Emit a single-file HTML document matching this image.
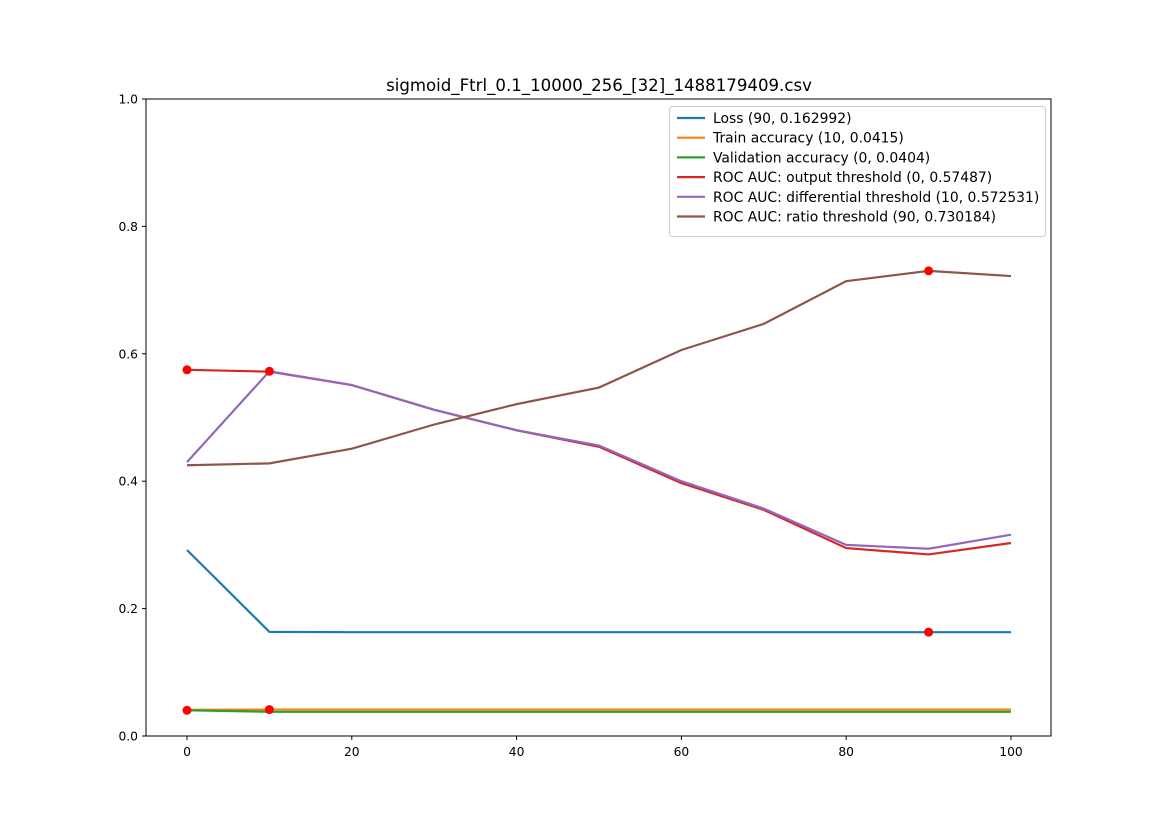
<!DOCTYPE html>
<html><head><meta charset="utf-8">
<style>
body{margin:0;background:#fff;}
svg{display:block;font-family:"DejaVu Sans","Liberation Sans",sans-serif;}
</style></head>
<body>
<svg id="chart" width="1169" height="827" viewBox="0 0 1169 827">
<rect width="1169" height="827" fill="#fff"/>
<text x="599" y="91" text-anchor="middle" font-size="16.6">sigmoid_Ftrl_0.1_10000_256_[32]_1488179409.csv</text>
<g id="marks"></g>
<g id="axes"></g>
<g id="legend"></g>
</svg>
<script>
const xs = [0,10,20,30,40,50,60,70,80,90,100];
const lossVals = [0.292,0.1635,0.163,0.163,0.163,0.163,0.163,0.163,0.163,0.162992,0.163];
const trainVals = [0.041,0.0415,0.0415,0.0415,0.0415,0.0415,0.0415,0.0415,0.0415,0.0415,0.0415];
const valVals = [0.0404,0.038,0.038,0.038,0.038,0.038,0.038,0.038,0.038,0.038,0.038];
const outVals = [0.57487,0.572,0.551,0.512,0.480,0.454,0.397,0.355,0.295,0.285,0.303];
const diffVals = [0.43,0.572531,0.551,0.512,0.480,0.456,0.400,0.357,0.300,0.294,0.316];
const ratioVals = [0.425,0.428,0.451,0.489,0.521,0.547,0.606,0.647,0.714,0.730184,0.722];
const seriesNames = ["Loss (90, 0.162992)","Train accuracy (10, 0.0415)","Validation accuracy (0, 0.0404)","ROC AUC: output threshold (0, 0.57487)","ROC AUC: differential threshold (10, 0.572531)","ROC AUC: ratio threshold (90, 0.730184)"];
const xTicks = [0,20,40,60,80,100];
const yTicks = [0,0.2,0.4,0.6,0.8,1.0];

const NS="http://www.w3.org/2000/svg";
const L=146,R=1051,T=99,B=736;
const sx=v=>187+(v)*8.24;
const sy=v=>B-(v)*(B-T);
function mk(tag,attrs,parent){const e=document.createElementNS(NS,tag);for(const k in attrs)e.setAttribute(k,attrs[k]);parent.appendChild(e);return e;}
const marks=document.getElementById('marks'),axes=document.getElementById('axes'),legend=document.getElementById('legend');
const colors=["#1f77b4","#ff7f0e","#2ca02c","#d62728","#9467bd","#8c564b"];
const all=[lossVals,trainVals,valVals,outVals,diffVals,ratioVals];
const keys=["loss","train-accuracy","validation-accuracy","roc-output","roc-differential","roc-ratio"];
all.forEach((vals,i)=>{
  const p=mk('polyline',{points:vals.map((v,j)=>sx(xs[j])+','+sy(v)).join(' '),fill:'none',stroke:colors[i],'stroke-width':2.2},marks);
  
  
});
all.forEach((vals,i)=>{
  let bi=0;vals.forEach((v,j)=>{if(i===0?v<vals[bi]:v>vals[bi])bi=j;});
  const c=mk('circle',{cx:sx(xs[bi]),cy:sy(vals[bi]),r:4.5,fill:'#ff0000'},marks);
  
  
});
const fr=mk('rect',{x:L,y:T,width:R-L,height:B-T,fill:'none',stroke:'#000','stroke-width':1},axes);


xTicks.forEach(t=>{
  mk('line',{x1:sx(t),x2:sx(t),y1:B,y2:B+4,stroke:'#000'},axes);
  const tx=mk('text',{x:sx(t),y:B+20,'text-anchor':'middle','font-size':12.3},axes);tx.textContent=t;
  
  
});
yTicks.forEach(t=>{
  mk('line',{x1:L-4,x2:L,y1:sy(t),y2:sy(t),stroke:'#000'},axes);
  const tx=mk('text',{x:L-8,y:sy(t)+4.5,'text-anchor':'end','font-size':12.3},axes);tx.textContent=t.toFixed(1);
  
  
});
const lb=mk('rect',{x:669.5,y:106.5,width:376,height:130,rx:3,fill:'#fff','fill-opacity':0.8,stroke:'#ccc'},legend);


seriesNames.forEach((n,i)=>{
  const y=118+i*19.7;
  const g=mk('g',{},legend);
  
  
  mk('line',{x1:677,x2:705,y1:y,y2:y,stroke:colors[i],'stroke-width':2.2},g);
  const t=mk('text',{x:713,y:y+5,'font-size':13.9},g);t.textContent=n;
});
</script>
</body></html>
